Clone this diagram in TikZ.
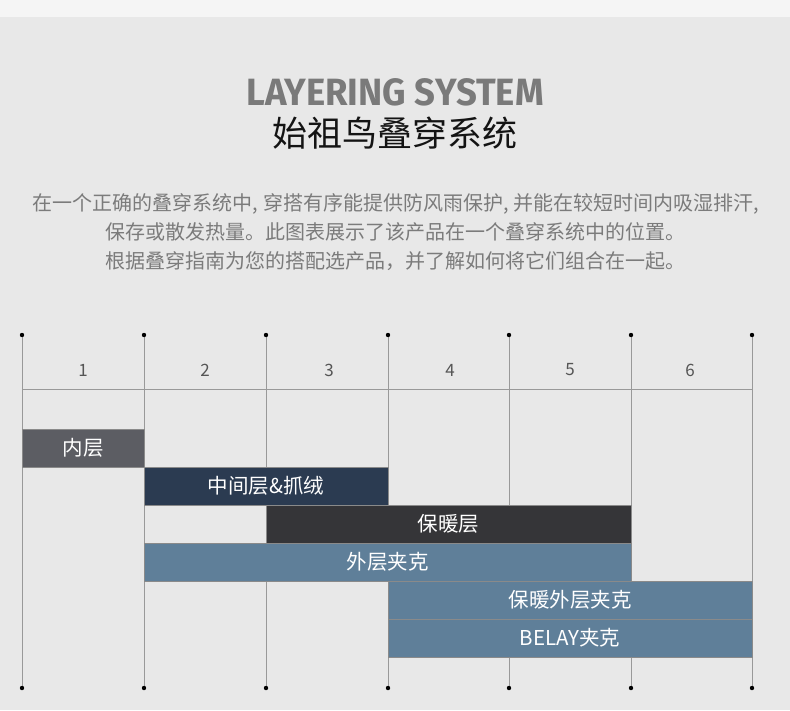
\documentclass[tikz,border=0pt]{standalone}
\usepackage{fontspec}
\setmainfont{Noto Sans CJK SC}
\newfontfamily\titlefont[FakeStretch=0.96]{Fira Sans}
\definecolor{bgtop}{HTML}{F5F5F5}
\definecolor{bgmain}{HTML}{E8E8E8}
\definecolor{gridc}{HTML}{999999}
\definecolor{titlegray}{HTML}{7A7A7A}
\definecolor{paragray}{HTML}{7B7B7B}
\definecolor{numgray}{HTML}{555555}
\definecolor{cinner}{HTML}{5C5D63}
\definecolor{cmid}{HTML}{2B3B51}
\definecolor{cwarm}{HTML}{353538}
\definecolor{cshell}{HTML}{5F7F99}
\definecolor{edgec}{HTML}{8A8A8A}
\tikzset{
  bar/.style={draw=edgec, line width=0.8pt, rectangle, inner sep=0pt, minimum height=38pt, text=white, font=\fontsize{20.5}{22}\selectfont},
  gridline/.style={draw=gridc, line width=0.9pt},
  numlab/.style={text=numgray, font=\fontsize{17}{20}\selectfont},
}
\begin{document}
\begin{tikzpicture}[x=1pt,y=-1pt]
\useasboundingbox (0,0) rectangle (790,710);
\fill[bgmain] (0,0) rectangle (790,710);
\fill[bgtop] (0,0) rectangle (790,17);
% titles
\node (title) at (395,92) {\titlefont\bfseries\fontsize{38}{40}\selectfont\color{titlegray}LAYERING SYSTEM};
\node (subtitle) at (395,133) {\fontsize{35}{38}\selectfont\color{black!92}始祖鸟叠穿系统};
\node[align=center, text=paragray, font=\fontsize{20}{29}\selectfont] (para) at (396,232) {在一个正确的叠穿系统中,\hspace{5pt}穿搭有序能提供防风雨保护,\hspace{5pt}并能在较短时间内吸湿排汗,\\保存或散发热量。此图表展示了该产品在一个叠穿系统中的位置。\\根据叠穿指南为您的搭配选产品，并了解如何将它们组合在一起。};
% grid coordinates
\foreach \i/\x in {1/22,2/144,3/266,4/388,5/509,6/631,7/752}{
  \coordinate (t\i) at (\x,335);
  \coordinate (b\i) at (\x,688);
}
\coordinate (hl) at (22,389);
\coordinate (hr) at (752,389);
\foreach \i in {1,...,7}{ \draw[gridline] (t\i) -- (b\i); }
\draw[gridline] (hl) -- (hr);
\foreach \i in {1,...,7}{ \fill[black] (t\i) circle (2.2); \fill[black] (b\i) circle (2.2); }
% column numbers
\node[numlab] (n1) at (83,370) {1};
\node[numlab] (n2) at (205,370) {2};
\node[numlab] (n3) at (329,370) {3};
\node[numlab] (n4) at (450,370) {4};
\node[numlab] (n5) at (570,370) {5};
\node[numlab] (n6) at (690,370) {6};
% bars
\node[bar, fill=cinner, minimum width=122pt] (inner) at (83,448) {内层};
\node[bar, fill=cmid, minimum width=244pt] (mid) at (266,486) {中间层\&抓绒};
\node[bar, fill=cwarm, minimum width=365pt] (warm) at (448.5,524) {保暖层};
\node[bar, fill=cshell, minimum width=487pt] (shell) at (387.5,562) {外层夹克};
\node[bar, fill=cshell, minimum width=364pt] (ins) at (570,600) {保暖外层夹克};
\node[bar, fill=cshell, minimum width=364pt] (belay) at (570,638) {BELAY夹克};
\end{tikzpicture}
\end{document}
